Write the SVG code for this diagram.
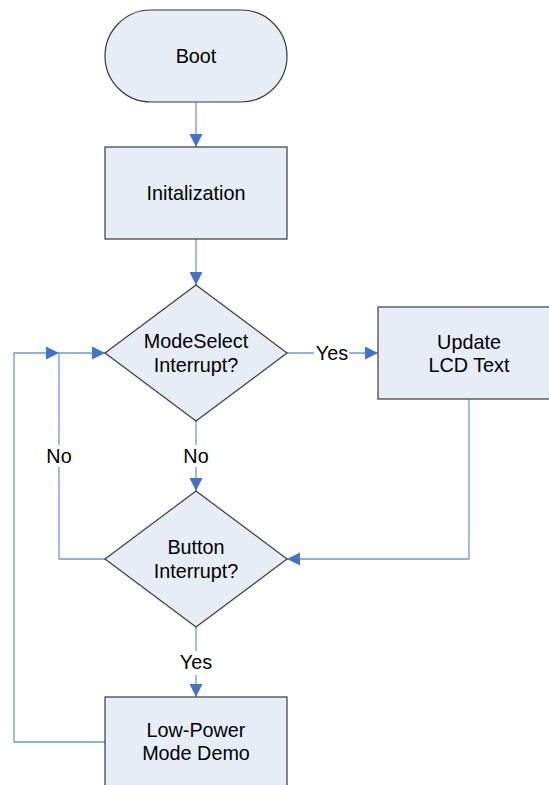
<svg xmlns="http://www.w3.org/2000/svg" width="549" height="785" viewBox="0 0 549 785">
<style>
.node{fill:#E7EDF7;stroke:#3a3a3a;stroke-width:1.2}
.lbl{font-family:"Liberation Sans",Arial,sans-serif;font-size:19.8px;fill:#000;text-anchor:middle}
.edge{fill:none;stroke:#6F98D4;stroke-width:1.3}
.gap{fill:#fff;stroke:none}
</style>
<defs>
<marker id="arr" markerUnits="userSpaceOnUse" markerWidth="14" markerHeight="14" refX="13" refY="6.5" orient="auto">
<path d="M0,0 L13,6.5 L0,13 z" fill="#4472C4"/>
</marker>
</defs>
<g id="connectors">
<path class="edge" d="M196,102 V147" marker-end="url(#arr)"/>
<path class="edge" d="M196,239 V285" marker-end="url(#arr)"/>
<path class="edge" d="M287,353 H378" marker-end="url(#arr)"/>
<path class="edge" d="M196,421 V491" marker-end="url(#arr)"/>
<path class="edge" d="M469,399 V559 H287" marker-end="url(#arr)"/>
<path class="edge" d="M196,627 V697" marker-end="url(#arr)"/>
<path class="edge" d="M105,559 H59 V353 H105" marker-end="url(#arr)"/>
<path class="edge" d="M105,742 H14 V353 H59" marker-end="url(#arr)"/>
<rect class="gap" x="314" y="343" width="35" height="21"/>
<text class="lbl" x="332" y="360">Yes</text>
<rect class="gap" x="183" y="445" width="26" height="22"/>
<text class="lbl" x="196" y="463">No</text>
<rect class="gap" x="46" y="445" width="26" height="22"/>
<text class="lbl" x="59" y="463">No</text>
<rect class="gap" x="178" y="651" width="36" height="24"/>
<text class="lbl" x="196" y="669">Yes</text>
</g>
<g id="boot">
<rect class="node" x="105" y="10" width="182" height="92" rx="46" ry="46"/>
<text class="lbl" x="196" y="63">Boot</text>
</g>
<g id="init">
<rect class="node" x="105" y="147" width="182" height="92"/>
<text class="lbl" x="196" y="200">Initalization</text>
</g>
<g id="modeselect">
<polygon class="node" points="196,285 287,353 196,421 105,353"/>
<text class="lbl" x="196" y="348">ModeSelect</text>
<text class="lbl" x="196" y="372">Interrupt?</text>
</g>
<g id="update">
<rect class="node" x="378" y="307" width="182" height="92"/>
<text class="lbl" x="469" y="348.5">Update</text>
<text class="lbl" x="469" y="372">LCD Text</text>
</g>
<g id="button">
<polygon class="node" points="196,491 287,559 196,627 105,559"/>
<text class="lbl" x="196" y="554">Button</text>
<text class="lbl" x="196" y="578">Interrupt?</text>
</g>
<g id="lowpower">
<rect class="node" x="105" y="697" width="182" height="92"/>
<text class="lbl" x="196" y="737">Low-Power</text>
<text class="lbl" x="196" y="760">Mode Demo</text>
</g>
</svg>
